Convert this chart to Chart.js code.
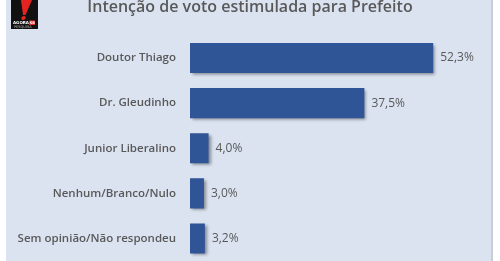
<!DOCTYPE html>
<html>
<head>
<meta charset="utf-8">
<script src="https://cdn.jsdelivr.net/npm/chart.js@4"></script>
<style>
  html, body { margin: 0; padding: 0; background: #ffffff; }
</style>
</head>
<body>
<canvas id="grafico" width="500" height="261"></canvas>
<script>
const candidatos = ['Doutor Thiago', 'Dr. Gleudinho', 'Junior Liberalino', 'Nenhum/Branco/Nulo', 'Sem opinião/Não respondeu']
const votos = [52.3, 37.5, 4.0, 3.0, 3.2]
const titulo = 'Intenção de voto estimulada para Prefeito'
const corBarra = '#2f5597'
const corTexto = '#595959'
const fonte = "'Open Sans', 'DejaVu Sans', sans-serif"

// painel azul claro, logo e titulo
const fundo = {
    id: 'fundo',
    beforeDraw: (chart) => {
        const {ctx} = chart
        ctx.save()
        ctx.fillStyle = '#ffffff'
        ctx.fillRect(0, 0, chart.width, chart.height)
        ctx.fillStyle = '#dbe3f1'
        ctx.fillRect(6, 0, 485, chart.height)
        ctx.fillStyle = '#c9ced6'
        ctx.fillRect(491, 0, 2, chart.height)

        // logo
        ctx.fillStyle = '#111111'
        ctx.fillRect(11, 0, 27, 29)
        ctx.fillStyle = '#e52421'
        ctx.beginPath()
        ctx.moveTo(21, 0)
        ctx.lineTo(32, 0)
        ctx.lineTo(25.5, 15)
        ctx.lineTo(23, 15)
        ctx.closePath()
        ctx.fill()
        ctx.beginPath()
        ctx.ellipse(23.5, 18, 2.2, 1.8, -0.3, 0, Math.PI * 2)
        ctx.fill()
        ctx.textAlign = 'left'
        ctx.textBaseline = 'alphabetic'
        ctx.font = "bold 4px 'DejaVu Sans', sans-serif"
        ctx.fillStyle = '#ffffff'
        ctx.fillText('AGORA', 13, 24)
        ctx.fillStyle = '#e52421'
        ctx.fillRect(29, 20.5, 6, 4.5)
        ctx.fillStyle = '#ffffff'
        ctx.font = "bold 3.5px 'DejaVu Sans', sans-serif"
        ctx.fillText('SB', 29.8, 24)
        ctx.font = "3.5px 'DejaVu Sans', sans-serif"
        ctx.fillStyle = '#bbbbbb'
        ctx.fillText('PESQUISA', 14, 28)

        // titulo
        ctx.font = "600 16px " + fonte
        ctx.fillStyle = corTexto
        ctx.textAlign = 'center'
        ctx.fillText(titulo, 250, 12)
        ctx.restore()
    }
}

const sombra = {
    id: 'sombra',
    beforeDatasetsDraw: (chart) => {
        const {ctx} = chart
        ctx.save()
        ctx.shadowColor = 'rgba(0, 0, 0, 0.4)'
        ctx.shadowOffsetX = 2
        ctx.shadowOffsetY = 2
        ctx.shadowBlur = 3
    },
    afterDatasetsDraw: (chart) => {
        chart.ctx.restore()
    }
}

const etiquetas = {
    id: 'etiquetas',
    afterDatasetsDraw: (chart) => {
        const {ctx} = chart
        const meta = chart.getDatasetMeta(0)
        ctx.save()
        ctx.font = "12px " + fonte
        ctx.fillStyle = corTexto
        ctx.textAlign = 'left'
        ctx.textBaseline = 'middle'
        meta.data.forEach((barra, i) => {
            const txt = votos[i].toFixed(1).replace('.', ',') + '%'
            ctx.fillText(txt, barra.x + 7, barra.y)
        })
        ctx.restore()
    }
}

const grafico = new Chart(document.getElementById('grafico').getContext('2d'), {
    type: 'bar',
    data: {
        labels: candidatos,
        datasets: [{
            data: votos,
            backgroundColor: corBarra,
            borderWidth: 0,
            barPercentage: 0.667,
            categoryPercentage: 1
        }]
    },
    plugins: [fundo, sombra, etiquetas],
    options: {
        indexAxis: 'y',
        responsive: false,
        animation: false,
        devicePixelRatio: 1,
        layout: {
            padding: { top: 35.5, right: 31, bottom: 0, left: 0 }
        },
        plugins: {
            legend: { display: false },
            tooltip: { enabled: false },
            title: { display: false }
        },
        scales: {
            x: {
                display: false, min: 0, max: 60,
                afterFit: (scale) => { scale.height = 0; scale.paddingLeft = 0; scale.paddingRight = 0 }
            },
            y: {
                grid: { display: false, drawTicks: false },
                border: { display: false },
                ticks: {
                    color: corTexto,
                    padding: 14,
                    font: { family: fonte, size: 11.5, weight: '600' }
                },
                afterFit: (scale) => { scale.width = 190; scale.paddingTop = 0; scale.paddingBottom = 0 }
            }
        }
    }
})
</script>
</body>
</html>
